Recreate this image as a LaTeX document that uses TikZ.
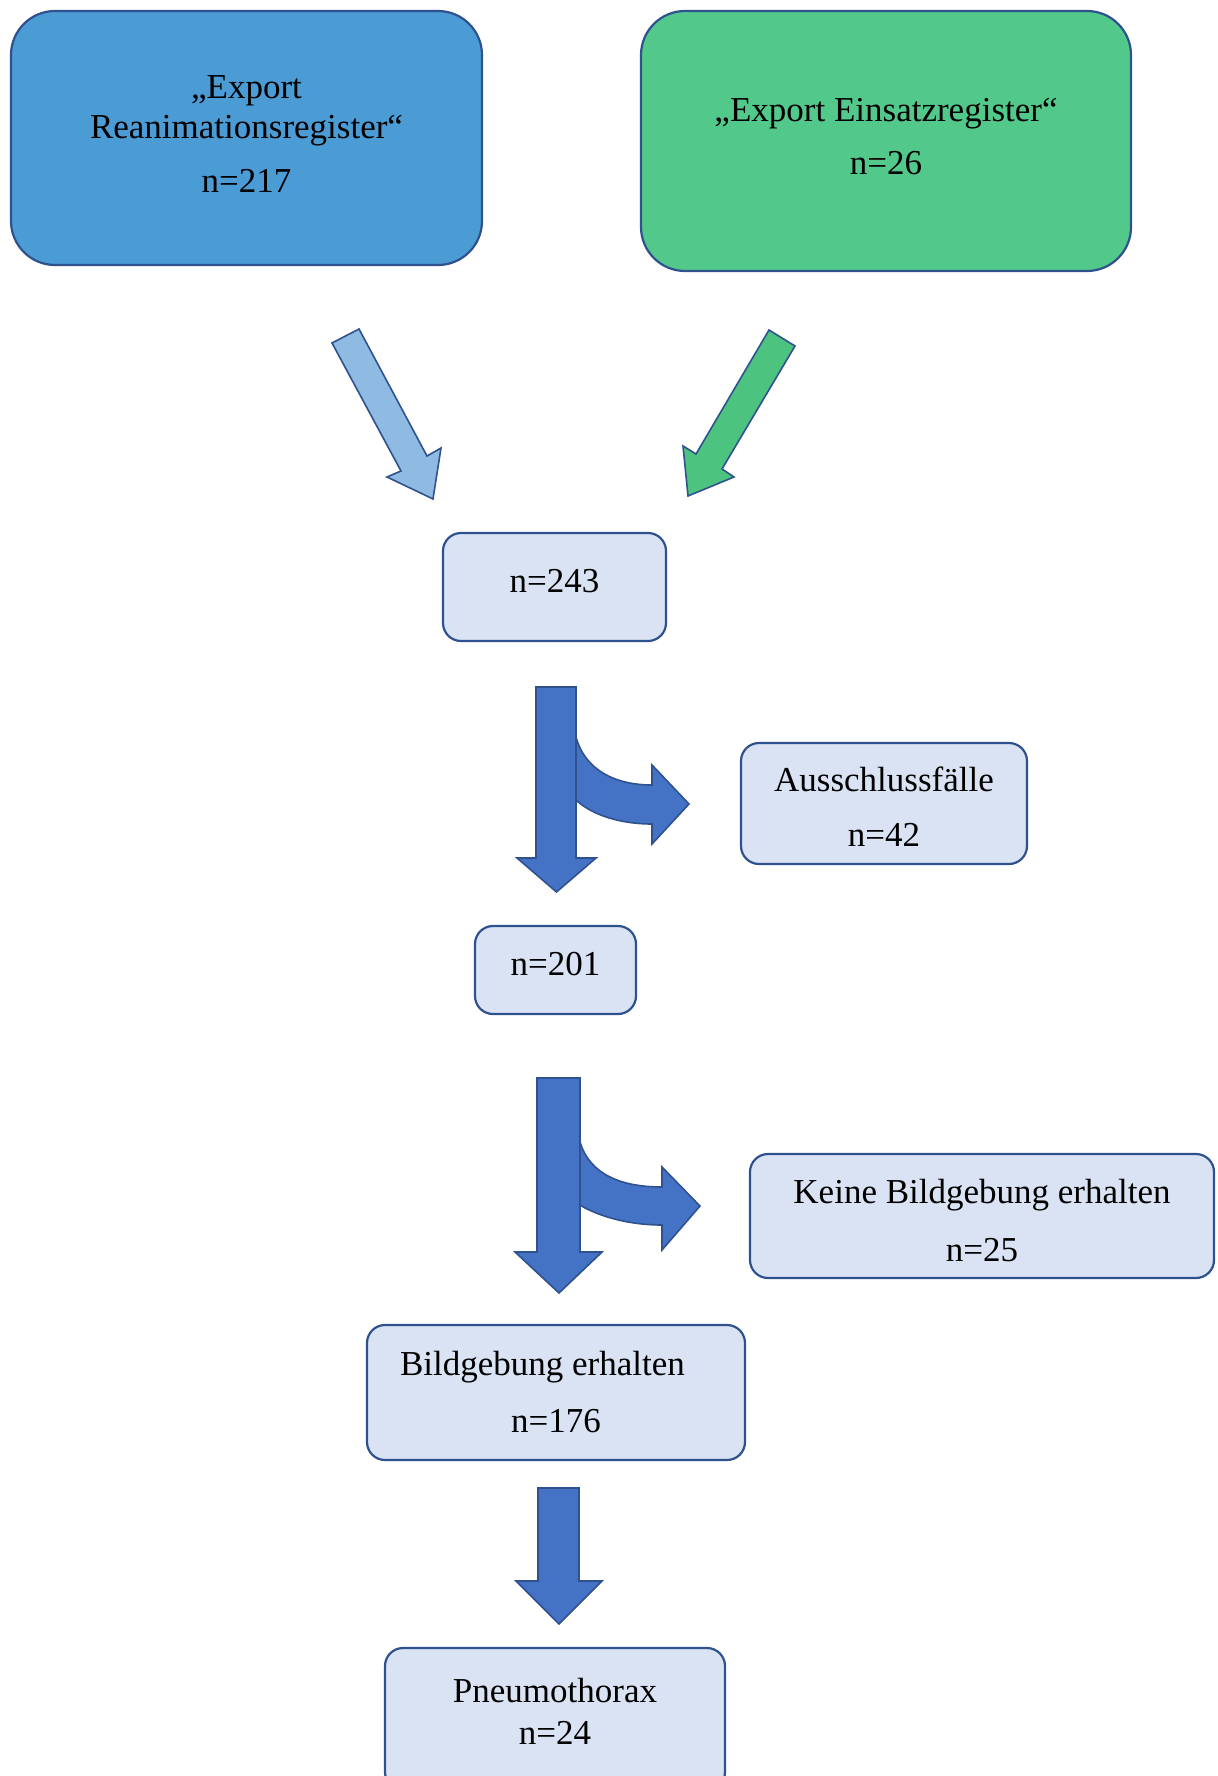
\documentclass[tikz,border=0pt]{standalone}
\usepackage{fontspec}
\setmainfont{Liberation Serif}
\usepackage{xcolor}
\usepackage{tikz}

\definecolor{regblue}{RGB}{75,155,213}
\definecolor{reggreen}{RGB}{82,201,138}
\definecolor{boxfill}{RGB}{218,227,243}
\definecolor{boxline}{RGB}{47,82,143}
\definecolor{flowblue}{RGB}{68,114,196}
\definecolor{lightarrow}{RGB}{143,186,226}
\definecolor{greenarrow}{RGB}{76,196,127}

\tikzset{
    box/.style={draw=boxline, line width=1.1pt, fill=boxfill, rounded corners=9pt, inner sep=0pt},
    regbox/.style={box, rounded corners=22pt},
    boxtext/.style={align=center, inner sep=0pt, font=\fontsize{17.5}{20}\selectfont},
    blockarrow/.style={draw=boxline, line width=0.8pt, fill=flowblue, line join=miter}
}

\begin{document}
\begin{tikzpicture}[x=0.5pt, y=-0.5pt]

\clip (0,0) rectangle (1217,1776);

% Registers
\node[regbox, fill=regblue, minimum width=235.5pt, minimum height=127pt,
    label={[boxtext, yshift=2pt]center:{„Export\\Reanimationsregister“\\[7pt]n=217}}] (reanim) at (246.5,138) {};
\node[regbox, fill=reggreen, minimum width=245pt, minimum height=130pt,
    label={[boxtext, yshift=2.3pt]center:{„Export Einsatzregister“\\[6.5pt]n=26}}] (einsatz) at (886,141) {};

% Flow boxes
\node[box, minimum width=111.5pt, minimum height=54pt,
    label={[boxtext, yshift=2.8pt]center:n=243}] (total) at (554.5,587) {};
\node[box, minimum width=143pt, minimum height=60.5pt,
    label={[boxtext, yshift=-1.7pt]center:{Ausschlussfälle\\[7.5pt]n=42}}] (ausschluss) at (884,803.5) {};
\node[box, minimum width=80.5pt, minimum height=44pt,
    label={[boxtext, yshift=2.8pt]center:n=201}] (rest) at (555.5,970) {};
\node[box, minimum width=232pt, minimum height=62pt,
    label={[boxtext, yshift=-2.5pt]center:{Keine Bildgebung erhalten\\[9pt]n=25}}] (keine) at (982,1216) {};
\node[box, minimum width=189pt, minimum height=67.5pt,
    label={[boxtext]center:{Bildgebung erhalten\hbox to 13.6pt{}\\[8.5pt]n=176}}] (bild) at (556,1392.5) {};
\node[box, minimum width=170pt, minimum height=71pt,
    label={[boxtext, font=\fontsize{17.5}{21}\selectfont, yshift=4pt]center:{Pneumothorax\\n=24}}] (pneu) at (555,1719) {};

% Arrows into n=243
\draw[blockarrow, fill=lightarrow] (332,343) -- (359,329) -- (427,456) -- (441,448)
    -- (433,499) -- (387,477) -- (401,471) -- cycle;
\draw[blockarrow, fill=greenarrow] (769,330) -- (795,346) -- (722,469) -- (734,477)
    -- (688,496) -- (683,446) -- (696,454) -- cycle;

% First split
\draw[blockarrow] (536,687) -- (576,687) -- (576,858) -- (596,858) -- (556.5,892)
    -- (517,858) -- (536,858) -- cycle;
\draw[blockarrow] (576,737) .. controls (585,770) and (615,785) .. (652,785) -- (652,765)
    -- (689,804) -- (652,844) -- (652,824) .. controls (620,824) and (592,815) .. (576,800) -- cycle;

% Second split
\draw[blockarrow] (537,1078) -- (580,1078) -- (580,1252) -- (602,1252) -- (559,1293)
    -- (515,1252) -- (537,1252) -- cycle;
\draw[blockarrow] (580,1142) .. controls (590,1175) and (622,1187) .. (662,1187) -- (662,1167)
    -- (700,1206) -- (662,1250) -- (662,1225) .. controls (626,1225) and (596,1215) .. (580,1205) -- cycle;

% Down to Pneumothorax
\draw[blockarrow] (538,1488) -- (579,1488) -- (579,1581) -- (602,1581) -- (559,1624)
    -- (516,1581) -- (538,1581) -- cycle;

\end{tikzpicture}
\end{document}
